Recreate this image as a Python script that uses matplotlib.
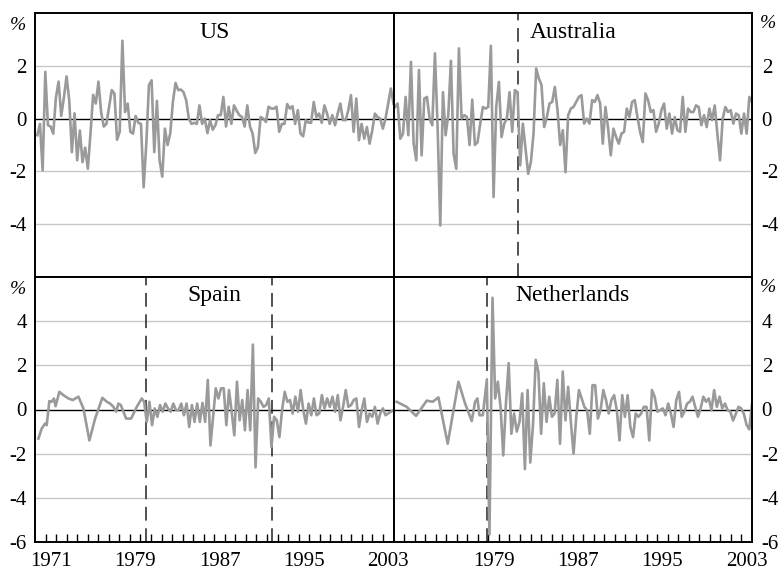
import numpy as np
import matplotlib
matplotlib.use("Agg")
import matplotlib.pyplot as plt

plt.rcParams['font.family'] = ['Liberation Serif', 'DejaVu Serif']
plt.rcParams['axes.unicode_minus'] = False

# ---------------- data (percent) ----------------
us_dates = (1970.22, 2004.0)
us_vals = [-0.63, -0.2, -1.96, 1.77, -0.25, -0.3, -0.57, 0.8, 1.4, 0.1,
           0.8, 1.6, 0.7, -1.27, 0.2, -1.58, -0.45, -1.65, -1.1, -1.9,
           -0.57, 0.9, 0.57, 1.4, 0.25, -0.3, -0.2, 0.45, 1.08, 0.95,
           -0.8, -0.5, 2.95, 0.25, 0.57, -0.5, -0.57, 0.1, -0.16, -0.2,
           -2.6, -0.95, 1.27, 1.45, -1.27, 0.67, -1.58, -2.2, -0.38, -1.0,
           -0.57, 0.63, 1.35, 1.08, 1.1, 1.0, 0.7, 0.0, -0.2, -0.16,
           -0.2, 0.5, -0.2, 0.0, -0.55, -0.06, -0.42, -0.25, 0.13, 0.13,
           0.82, -0.3, 0.45, -0.2, 0.5, 0.3, 0.13, 0.06, -0.3, 0.5,
           -0.3, -0.57, -1.3, -1.08, 0.06, 0.0, -0.13, 0.45, 0.38, 0.38,
           0.45, -0.5, -0.2, -0.2, 0.55, 0.38, 0.47, -0.2, 0.32, -0.57,
           -0.67, -0.06, -0.15, -0.16, 0.63, 0.06, 0.19, -0.16, 0.5, 0.19,
           -0.2, 0.13, -0.25, 0.19, 0.57, -0.06, -0.06, 0.32, 0.89, -0.5,
           0.76, -0.82, -0.2, -0.76, -0.32, -0.95, -0.45, 0.19, 0.06, 0.0,
           -0.38, 0.0, 0.57, 1.14, 0.57]

au_dates = (1970.14, 2004.0)
au_vals = [0.44, 0.57, -0.76, -0.57, 0.82, -0.63, 2.15, -0.95, -1.58, 1.84,
           -1.39, 0.76, 0.82, 0.0, -0.25, 2.47, -0.32, -4.05, 1.0, -0.63,
           0.13, 2.19, -1.33, -1.9, 2.66, 0.0, 0.13, 0.06, -1.0, 0.72,
           -1.0, -0.89, -0.19, 0.44, 0.38, 0.44, 2.76, -2.97, 0.44, 1.39,
           -0.7, -0.19, 0.0, 1.0, -0.5, 1.08, 1.0, -1.77, -0.19,
           -1.14, -2.09, -1.65, -0.57, 1.9, 1.52, 1.27, -0.32, 0.06, 0.57,
           0.63, 1.2, 0.32, -1.0, -0.44, -2.03, 0.13, 0.38, 0.44, 0.63,
           0.82, 0.89, -0.19, 0.0, -0.19, 0.7, 0.63, 0.89, 0.57, -0.95,
           0.44, -0.38, -1.39, -0.38, -0.7, -0.95, -0.57, -0.5, 0.38, 0.06,
           0.63, 0.7, 0.06, -0.5, -0.89, 0.95, 0.7, 0.25, 0.32, -0.5,
           -0.19, 0.32, 0.57, -0.38, 0.19, -0.57, 0.06, -0.44, -0.5, 0.82,
           -0.5, 0.38, 0.25, 0.25, 0.5, 0.44, -0.25, 0.13, -0.32, 0.38,
           -0.06, 0.5, -0.57, -1.58, 0.0, 0.44, 0.25, 0.32, -0.19, 0.19,
           0.13, -0.57, 0.19, -0.57, 0.82, 0.63]

es_early_t = [1970.32, 1970.63, 1970.95, 1971.11, 1971.36, 1971.58, 1971.80, 1971.95,
              1972.31, 1972.69, 1973.17, 1973.58, 1974.12, 1974.59, 1975.16, 1975.70,
              1976.39, 1976.81, 1977.12, 1977.44, 1977.69, 1977.91, 1978.14, 1978.64,
              1979.12, 1979.65, 1980.13, 1980.35]
es_early_v = [-1.32, -0.87, -0.64, -0.71, 0.38, 0.35, 0.5, 0.15,
              0.8, 0.65, 0.5, 0.43, 0.58, 0.05, -1.4, -0.41,
              0.53, 0.35, 0.27, 0.12, -0.1, 0.27, 0.2, -0.41,
              -0.41, 0.12, 0.5, 0.35]
es_q_dates = (1980.6, 2004.0)
es_q_vals = [-0.56, 0.35, -0.71, 0.05, -0.33, 0.2, -0.1, 0.27, 0.05, -0.1,
             0.27, -0.03, -0.03, 0.27, -0.26, 0.27, -0.79, 0.2, -0.56, 0.27,
             -0.56, 0.3, -0.56, 1.34, -1.63, -0.33, 0.96, 0.5, 0.96, 0.96,
             -0.71, 0.88, -0.1, -1.17, 1.26, -0.49, 0.43, -0.94, 0.88, -0.94,
             2.94, -2.62, 0.5, 0.35, 0.12, 0.2, 0.5, -1.7, -0.33, -0.49,
             -1.25, -0.03, 0.8, 0.35, 0.43, -0.18, 0.58, -0.1, 0.88, -0.03,
             -0.64, 0.27, -0.26, 0.5, -0.26, -0.18, 0.65, 0.05, 0.5, 0.12,
             0.58, -0.1, 0.65, -0.49, 0.12, 0.88, 0.12, 0.2, 0.43, 0.5,
             -0.79, -0.03, 0.5, -0.56, -0.18, -0.33, 0.12, -0.64, -0.18, 0.05,
             -0.26, -0.18, -0.1, -0.03]

nl_early_t = [1970.30, 1971.25, 1972.14, 1973.15, 1973.72, 1974.26, 1975.14, 1976.16,
              1976.79, 1977.42, 1977.74, 1977.96, 1978.15, 1978.47, 1978.85, 1979.10,
              1979.39]
nl_early_v = [0.35, 0.12, -0.29, 0.4, 0.35, 0.55, -1.55, 1.26,
              0.27, -0.52, 0.35, 0.5, -0.26, -0.26, 1.34, -5.66,
              5.06]
nl_q_dates = (1979.64, 2004.0)
nl_q_vals = [0.5, 1.26, 0.12, -2.08, 0.3, 2.1, -1.1, -0.18, -1.0, -0.56,
             0.73, -2.7, 0.88, -2.4, -0.7, 2.25, 1.7, -1.1, 1.19, -0.56,
             0.58, -0.33, -0.18, 1.34, -1.55, 1.72, -0.49, 1.03, -0.56, -2.0,
             -0.33, 0.88, 0.5, 0.12, -0.03, -1.1, 1.1, 1.1, -0.41, -0.03,
             0.88, 0.43, -0.18, 0.43, 0.65, -0.03, -1.4, 0.65, -0.33, 0.65,
             -0.79, -1.25, -0.18, -0.33, -0.18, 0.12, 0.12, -1.4, 0.88, 0.58,
             -0.1, -0.03, 0.05, -0.26, 0.27, -0.18, -0.79, 0.43, 0.8, -0.33,
             -0.1, 0.27, 0.35, 0.58, 0.12, -0.33, 0.05, 0.58, 0.35, 0.5,
             -0.03, 0.88, 0.12, 0.58, 0.05, 0.27, -0.03, -0.1, -0.5, -0.2,
             0.12, 0.05, -0.2, -0.7, -0.9, 0.25]

breaks = {"US": [], "Australia": [1981.8], "Spain": [1980.5, 1992.5], "Netherlands": [1978.85]}
year_labels_left = [1971, 1979, 1987, 1995, 2003]
year_labels_right = [1979, 1987, 1995, 2003]

# ---------------- figure ----------------
W, H = 779, 570
fig = plt.figure(figsize=(W / 100, H / 100), dpi=100)

def fx(px):
    return px / W

def fy(py):
    return 1 - py / H

xl, xm, xr = 35, 393.5, 752
yt, ym, yb = 13, 277, 542

LINE_C = '#9a9a9a'
GRID_C = '#c8c8c8'
TICK_FS = 15
TITLE_FS = 17


def make_ax(x0, x1, y0, y1):
    return fig.add_axes([fx(x0), fy(y1), fx(x1) - fx(x0), fy(y0) - fy(y1)])


def setup(ax, ylim, yticks, grid_vals, side, bottom, xlabels, title, title_y):
    ax.set_xlim(1970, 2004)
    ax.set_ylim(*ylim)
    for g in grid_vals:
        ax.axhline(g, color=GRID_C, lw=1.0, zorder=0.5)
    ax.axhline(0, color='black', lw=1.0, zorder=1)
    ax.set_yticks(yticks)
    ax.set_yticklabels([f"{v:g}" for v in yticks])
    if side == 'left':
        ax.yaxis.tick_left()
        ax.tick_params(axis='y', length=0, pad=6, labelsize=TICK_FS)
    else:
        ax.yaxis.tick_right()
        ax.tick_params(axis='y', length=0, pad=7, labelsize=TICK_FS)
    if bottom:
        ax.set_xticks([y + 0.5 for y in xlabels])
        ax.set_xticklabels([str(y) for y in xlabels])
        ax.set_xticks(np.arange(1971, 2004), minor=True)
        ax.tick_params(axis='x', which='major', length=0, pad=7, labelsize=TICK_FS)
        ax.tick_params(axis='x', which='minor', direction='in', length=6, width=1.0)
    else:
        ax.set_xticks([])
    for s in ax.spines.values():
        s.set_linewidth(1.4)
        s.set_color('black')
    ax.text(0.5, title_y, title, transform=ax.transAxes, ha='center', va='center',
            fontsize=TITLE_FS)
    for b in breaks[title]:
        ax.axvline(b, color='#222222', lw=1.1, linestyle=(0, (9, 5)), zorder=1.5)


def qdates(rng, n):
    return np.linspace(rng[0], rng[1], n)


ax_us = make_ax(xl, xm, yt, ym)
ax_au = make_ax(xm, xr, yt, ym)
ax_es = make_ax(xl, xm, ym, yb)
ax_nl = make_ax(xm, xr, ym, yb)

setup(ax_us, (-6, 4), [2, 0, -2, -4], [2, -2, -4], 'left', False, None, 'US', 0.925)
setup(ax_au, (-6, 4), [2, 0, -2, -4], [2, -2, -4], 'right', False, None, 'Australia', 0.925)
setup(ax_es, (-6, 6), [4, 2, 0, -2, -4, -6], [4, 2, -2, -4], 'left', True,
      year_labels_left, 'Spain', 0.93)
setup(ax_nl, (-6, 6), [4, 2, 0, -2, -4, -6], [4, 2, -2, -4], 'right', True,
      year_labels_right, 'Netherlands', 0.93)

ax_us.plot(qdates(us_dates, len(us_vals)), us_vals, color=LINE_C, lw=1.9, zorder=2)
ax_au.plot(qdates(au_dates, len(au_vals)), au_vals, color=LINE_C, lw=1.9, zorder=2)
es_t = list(es_early_t) + list(qdates(es_q_dates, len(es_q_vals)))
es_v = list(es_early_v) + list(es_q_vals)
ax_es.plot(es_t, es_v, color=LINE_C, lw=1.9, zorder=2)
nl_t = list(nl_early_t) + list(qdates(nl_q_dates, len(nl_q_vals)))
nl_v = list(nl_early_v) + list(nl_q_vals)
ax_nl.plot(nl_t, nl_v, color=LINE_C, lw=1.9, zorder=2)

# percent unit labels
for (px, py) in [(18, 25), (768, 23), (18, 289), (768, 288)]:
    fig.text(fx(px), fy(py), '%', ha='center', va='center', fontsize=TICK_FS - 1,
             style='italic')

fig.savefig('out.png', dpi=100)
